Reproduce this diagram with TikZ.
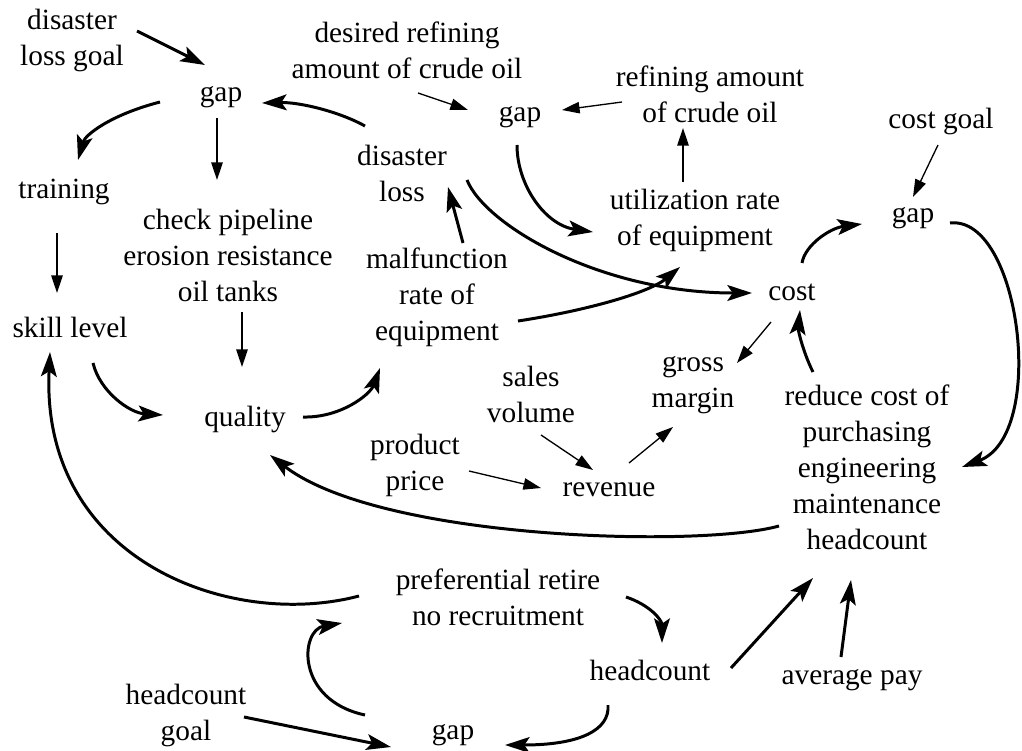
\documentclass[tikz,border=0pt]{standalone}
\usepackage{fontspec}
\setmainfont{Liberation Serif}
\usetikzlibrary{arrows.meta, calc}

\begin{document}
\begin{tikzpicture}[
    x=0.02cm, y=-0.02cm,
    var/.style={align=center, inner sep=0pt, font=\fontsize{16.7}{20.5}\selectfont},
    link/.style={-{Triangle[length=10pt, width=6.5pt]}, line width=0.75pt},
    boldlink/.style={-{Stealth[length=14pt, width=9pt, inset=3pt]}, line width=1.7pt}
]
\useasboundingbox (0,0) rectangle (1022,751);

% Variables
\node[var] (dlgoal) at (72,40) {disaster\\loss goal};
\node[var] (gapA) at (221,97) {gap};
\node[var] (training) at (64,192) {training};
\node[var] (check) at (228,255) {check pipeline\\erosion resistance\\oil tanks};
\node[var] (skill) at (70,327) {skill level};
\node[var] (quality) at (245,419) {quality};
\node[var] (desref) at (407,50) {desired refining\\amount of crude oil};
\node[var] (gapB) at (520,117) {gap};
\node[var] (refamt) at (710,94) {refining amount\\of crude oil};
\node[var] (dloss) at (402,173) {disaster\\loss};
\node[var] (util) at (695,220) {utilization rate\\of equipment};
\node[var] (malf) at (437,297) {malfunction\\rate of\\equipment};
\node[var] (costgoal) at (941,121) {cost goal};
\node[var] (gapC) at (913,218) {gap};
\node[var] (cost) at (792,292) {cost};
\node[var] (gross) at (693,385) {gross\\margin};
\node[var] (sales) at (531,394) {sales\\volume};
\node[var] (price) at (415,465) {product\\price};
\node[var] (revenue) at (609,490) {revenue};
\node[var] (reduce) at (867,467) {reduce cost of\\purchasing\\engineering\\maintenance\\headcount};
\node[var] (pref) at (498,597) {preferential retire\\no recruitment};
\node[var] (headcnt) at (650,670) {headcount};
\node[var] (avgpay) at (852,680) {average pay};
\node[var] (hcgoal) at (186,715) {headcount\\goal};
\node[var] (gapD) at (453,735) {gap};

% Thin links
\draw[link] ($(desref)+(11,43)$) -- ($(gapB)+(-52,-7)$);
\draw[link] ($(refamt)+(-88,8)$) -- ($(gapB)+(42,-7)$);
\draw[link] ($(gapA)+(-4,21)$) -- ($(check)+(-11,-75)$);
\draw[link] ($(training)+(-7,41)$) -- ($(skill)+(-13,-34)$);
\draw[link] ($(check)+(14,57)$) -- ($(quality)+(-3,-52)$);
\draw[link] ($(util)+(-12,-38)$) -- ($(refamt)+(-27,34)$);
\draw[link] ($(costgoal)+(-3,24)$) -- ($(gapC)+(0,-21)$);
\draw[link] ($(cost)+(-21,30)$) -- ($(gross)+(44,-22)$);
\draw[link] ($(price)+(54,6)$) -- ($(revenue)+(-68,-2)$);
\draw[link] ($(sales)+(10,41)$) -- ($(revenue)+(-16,-20)$);
\draw[link] ($(revenue)+(20,-27)$) -- ($(gross)+(-20,42)$);

% Bold links
\draw[boldlink] ($(dlgoal)+(65,-9)$) -- ($(gapA)+(-16,-32)$);
\draw[boldlink] ($(gapA)+(-61,5)$) .. controls (110,115) and (85,135) .. ($(training)+(14,-32)$);
\draw[boldlink] ($(dloss)+(-37,-47)$) .. controls (340,112) and (300,102) .. ($(gapA)+(41,6)$);
\draw[boldlink] ($(malf)+(26,-54)$) -- ($(dloss)+(46,14)$);
\draw[boldlink] ($(gapB)+(-3,28)$) .. controls (517,185) and (545,225) .. ($(util)+(-102,12)$);
\draw[boldlink] ($(dloss)+(65,7)$) .. controls (485,225) and (600,293) .. ($(cost)+(-40,1)$);
\draw[boldlink] ($(malf)+(81,24)$) .. controls (590,310) and (650,292) .. ($(util)+(-15,47)$);
\draw[boldlink] ($(cost)+(10,-29)$) .. controls (805,245) and (830,228) .. ($(gapC)+(-51,6)$);
\draw[boldlink] ($(gapC)+(37,5)$) .. controls (1020,215) and (1048,435) .. ($(reduce)+(95,0)$);
\draw[boldlink] ($(reduce)+(-54,-95)$) .. controls (803,352) and (798,330) .. ($(cost)+(8,18)$);
\draw[boldlink] ($(skill)+(23,36)$) .. controls (100,392) and (130,413) .. ($(quality)+(-82,-4)$);
\draw[boldlink] ($(quality)+(58,-2)$) .. controls (340,418) and (370,395) .. ($(malf)+(-57,71)$);
\draw[boldlink] ($(reduce)+(-88,59)$) .. controls (700,548) and (380,540) .. ($(quality)+(25,36)$);
\draw[boldlink] ($(pref)+(-139,-1)$) .. controls (230,630) and (40,560) .. ($(skill)+(-20,25)$);
\draw[boldlink] ($(pref)+(128,0)$) .. controls (650,605) and (662,620) .. ($(headcnt)+(12,-27)$);
\draw[boldlink] ($(gapD)+(-88,-20)$) .. controls (295,700) and (300,630) .. ($(pref)+(-156,26)$);
\draw[boldlink] ($(hcgoal)+(58,2)$) -- ($(gapD)+(-62,12)$);
\draw[boldlink] ($(headcnt)+(-42,35)$) .. controls (610,730) and (580,745) .. ($(gapD)+(52,10)$);
\draw[boldlink] ($(headcnt)+(81,-2)$) -- ($(reduce)+(-54,111)$);
\draw[boldlink] ($(avgpay)+(-11,-23)$) -- ($(reduce)+(-16,113)$);

\end{tikzpicture}
\end{document}
